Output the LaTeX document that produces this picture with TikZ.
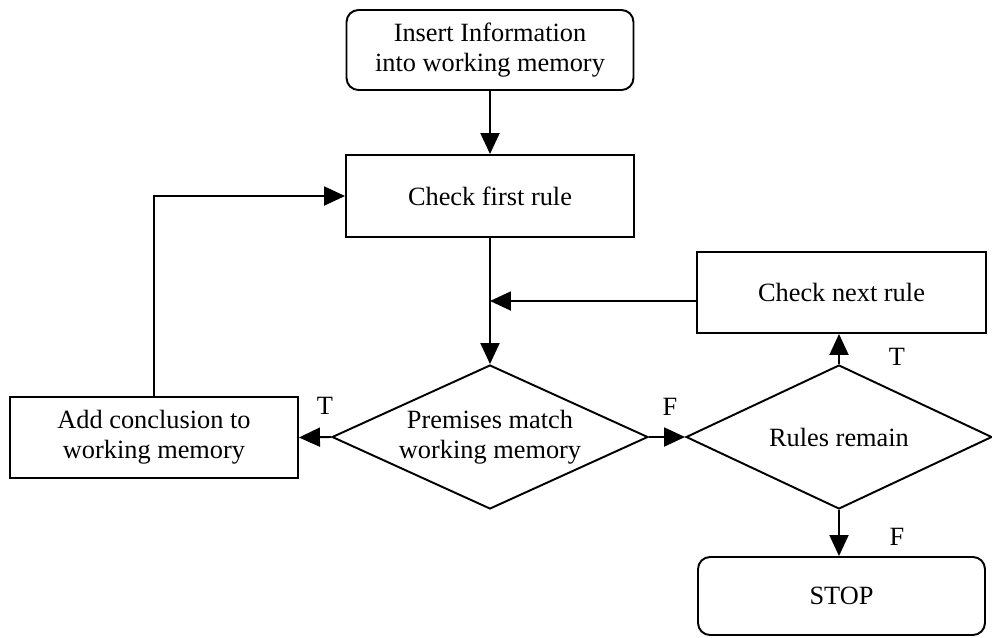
\documentclass[tikz,border=0pt]{standalone}
\usepackage{fontspec}
\setmainfont{Liberation Serif}
\usetikzlibrary{shapes.geometric,arrows.meta}

\tikzset{
  flowbox/.style={draw,line width=1.1pt,inner sep=0pt,align=center,
    minimum width=5.76cm,minimum height=1.62cm,
    font=\fontsize{15}{17}\selectfont},
  endbox/.style={flowbox,rounded corners=0.24cm},
  testbox/.style={draw,line width=1.1pt,diamond,aspect=2.2,inner sep=0pt,
    align=center,minimum width=6.2cm,minimum height=2.88cm,
    font=\fontsize{15}{17}\selectfont},
  flowarrow/.style={line width=1.1pt,-{Triangle[length=0.42cm,width=0.38cm]}},
  branch/.style={font=\fontsize{15}{17}\selectfont}
}

\begin{document}
\begin{tikzpicture}[x=0.02cm,y=-0.02cm]
    \useasboundingbox (0,0) rectangle (992,637);
    %% Boxes
    \node[endbox,minimum width=5.74cm,minimum height=1.6cm] (insert) at (490,50)
      {Insert Information\\into working memory};
    \node[flowbox,minimum height=1.64cm] (first) at (490,196) {Check first rule};
    \node[flowbox,minimum width=5.78cm] (next) at (841.5,292.5) {Check next rule};
    \node[flowbox] (add) at (154,437.5) {Add conclusion to\\working memory};
    \node[endbox,minimum width=5.74cm,minimum height=1.56cm] (stop) at (841.5,596) {STOP};
    %% Decisions
    \node[testbox,minimum width=6.32cm] (premises) at (490,437)
      {Premises match\\working memory};
    \node[testbox,minimum width=6.12cm] (remain) at (839,437) {Rules remain};
    %% Branch labels
    \node[branch] (lt1) at (325,406) {T};
    \node[branch] (lf1) at (670,407) {F};
    \node[branch] (lt2) at (897,357) {T};
    \node[branch] (lf2) at (897,537) {F};
    %% Connectors
    \coordinate (join) at (490,301);
    \draw[flowarrow] (insert.south) -- (first.north);
    \draw[flowarrow] (first.south) -- (premises.north);
    \draw[flowarrow] (next.west |- join) -- (join);
    \draw[flowarrow] (premises.west) -- (add.east);
    \draw[flowarrow] (premises.east) -- (remain.west);
    \draw[flowarrow] (remain.north) -- (remain.north |- next.south);
    \draw[flowarrow] (remain.south) -- (remain.south |- stop.north);
    \draw[flowarrow] (add.north) |- (first.west);
\end{tikzpicture}
\end{document}
